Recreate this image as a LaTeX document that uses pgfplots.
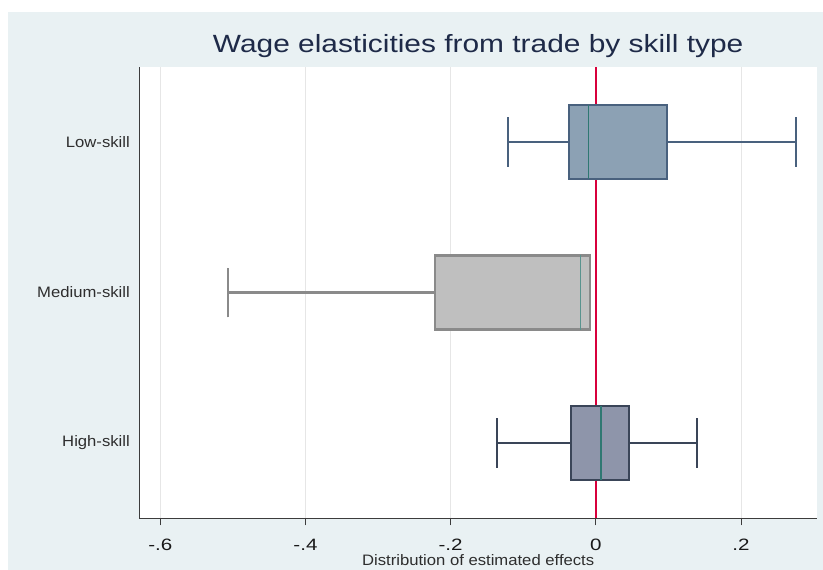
\documentclass[border=0pt]{standalone}
\usepackage{fontspec}
\setmainfont[FakeStretch=1.1]{Liberation Sans}
\newfontfamily\titlefont[FakeStretch=1.2]{Liberation Sans}
\newfontfamily\tickfont[FakeStretch=1.25]{Liberation Sans}
\usepackage{pgfplots}
\pgfplotsset{compat=1.18}
\usepgfplotslibrary{statistics}
\definecolor{bgc}{HTML}{E9F1F3}
\definecolor{gridc}{HTML}{E6E6E6}
\definecolor{axisc}{HTML}{3C3C3C}
\definecolor{titlec}{HTML}{1E2A48}
\definecolor{labc}{HTML}{2E2E2E}
\definecolor{zeroc}{HTML}{D8003C}
\definecolor{lowfill}{HTML}{8CA1B4}
\definecolor{lowdraw}{HTML}{49617E}
\definecolor{medfill}{HTML}{BFBFBF}
\definecolor{meddraw}{HTML}{8A8A8A}
\definecolor{highfill}{HTML}{8E95AA}
\definecolor{highdraw}{HTML}{3A4558}
\definecolor{medianc}{HTML}{2F7872}
\begin{document}
\begin{tikzpicture}
\useasboundingbox (0,0) rectangle (823bp,570bp);
\fill[white] (0,0) rectangle (823bp,570bp);
\fill[bgc] (8bp,0) rectangle (823bp,558bp);
\begin{axis}[
  at={(139bp,51.7bp)}, anchor=south west,
  scale only axis, width=678.3bp, height=451.6bp,
  xmin=-0.6293, xmax=0.3051,
  ymin=0.5, ymax=3.5,
  axis background/.style={fill=white},
  axis x line*=bottom, axis y line*=left,
  axis line style={draw=axisc, line width=1bp},
  xtick={-0.6,-0.4,-0.2,0,0.2}, xticklabels={-.6,-.4,-.2,0,.2},
  ytick={1,2,3}, yticklabels={High-skill,Medium-skill,Low-skill},
  xmajorgrids, grid style={draw=gridc, line width=0.8bp},
  tick align=outside, major tick length=7bp,
  xtick style={draw=axisc, line width=1bp},
  ytick style={draw=none},
  xticklabel style={font=\tickfont\fontsize{16.5}{19}\selectfont, anchor=base, yshift=-25.4bp, text=black!90},
  yticklabel style={font=\fontsize{15.2}{18}\selectfont, anchor=east, inner sep=0pt, xshift=-2bp, text=labc},
  title={Wage elasticities from trade by skill type},
  title style={at={(0.5,1)}, anchor=base, yshift=7.9bp, font=\titlefont\fontsize{25}{30}\selectfont, text=titlec},
  xlabel={Distribution of estimated effects},
  xlabel style={at={(axis description cs:0.5,0)}, anchor=base, yshift=-47bp, font=\fontsize{15.2}{18}\selectfont, text=labc},
  clip=false,
]
\addplot[zeroc, line width=1.4bp] coordinates {(0,0.5) (0,3.5)};
% Low-skill
\addplot[draw=lowdraw, fill=lowfill, line width=1.8bp,
  boxplot prepared={draw position=3, lower whisker=-0.1214, lower quartile=-0.0365,
    median=-0.0098, upper quartile=0.0981, upper whisker=0.2758,
    box extend=0.492, whisker extend=0.326,
    every whisker/.style={draw=lowdraw, line width=1.8bp},
    every median/.style={draw=medianc, line width=1.3bp}}]
  coordinates {};
% Medium-skill
\addplot[draw=meddraw, fill=medfill, line width=2.2bp,
  boxplot prepared={draw position=2, lower whisker=-0.5071, lower quartile=-0.2211,
    median=-0.0214, upper quartile=-0.0080, upper whisker=-0.0080,
    box extend=0.492, whisker extend=0.33,
    every whisker/.style={draw=meddraw, line width=2.2bp},
    every box/.style={draw=meddraw, fill=medfill, line width=2.2bp},
    every median/.style={draw=medianc!80!white, line width=1.5bp}}]
  coordinates {};
% High-skill
\addplot[draw=highdraw, fill=highfill, line width=1.8bp,
  boxplot prepared={draw position=1, lower whisker=-0.1357, lower quartile=-0.0342,
    median=0.0072, upper quartile=0.0453, upper whisker=0.1398,
    box extend=0.492, whisker extend=0.33,
    every whisker/.style={draw=highdraw, line width=1.8bp},
    every median/.style={draw=medianc, line width=1.3bp}}]
  coordinates {};
\end{axis}
\end{tikzpicture}
\end{document}
